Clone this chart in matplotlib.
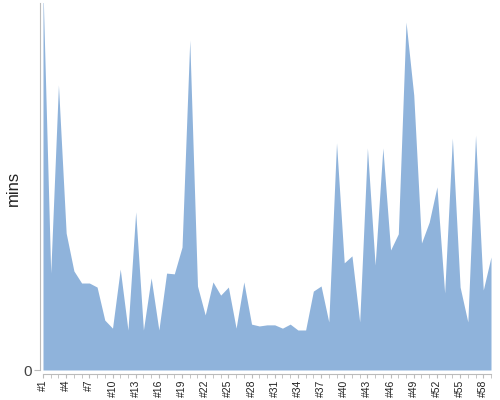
import matplotlib
matplotlib.use("Agg")
import matplotlib.pyplot as plt

# run numbers and durations (mins)
runs = list(range(1, 60))
mins = [104, 26.4, 77.7, 37.3, 27.0, 23.7, 23.7, 22.6, 13.6, 11.4,
        27.5, 10.9, 43.1, 10.9, 25.1, 10.9, 26.4, 26.2, 33.5, 89.9,
        22.9, 15.0, 24.0, 20.4, 22.6, 11.4, 24.0, 12.5, 12.0, 12.3,
        12.3, 11.4, 12.5, 10.9, 10.9, 21.5, 22.9, 13.1, 61.9, 29.2,
        31.1, 13.1, 60.5, 28.6, 60.5, 32.7, 37.1, 94.8, 74.9, 34.6,
        40.3, 49.9, 21.0, 63.2, 22.6, 13.1, 64.0, 21.8, 30.8]
labelled = runs[::3]
tick_labels = ["#%d" % r for r in labelled]

plt.rcParams['font.family'] = ['Liberation Sans', 'DejaVu Sans']

fig = plt.figure(figsize=(5, 4), dpi=100)
ax = fig.add_axes([0.086, 0.075, 0.896, 0.9175])

ax.fill_between(runs, 0, mins, color='#8fb3db', linewidth=0)
ax.set_xlim(1, 59)
ax.set_ylim(0, 100)

# axes look
for s in ['top', 'right']:
    ax.spines[s].set_visible(False)
ax.spines['left'].set_color('#bbbbbb')
ax.spines['bottom'].set_color('#bbbbbb')
ax.spines['left'].set_position(('outward', 2))
ax.spines['bottom'].set_position(('outward', 3))

ax.set_yticks([0])
ax.set_yticklabels(['0'])
ax.tick_params(axis='y', colors='#bbbbbb', labelcolor='#444444', labelsize=11,
               length=4, pad=2)

ax.set_xticks(runs, minor=True)
ax.set_xticks(labelled)
ax.set_xticklabels(tick_labels, rotation=90)
ax.tick_params(axis='x', which='both', colors='#bbbbbb', labelcolor='#222222',
               labelsize=7.5, length=3, pad=1)

fig.text(0.027, 0.53, 'mins', rotation=90, fontsize=12, color='#222222',
         ha='center', va='center')

fig.savefig('out.png', dpi=100)
